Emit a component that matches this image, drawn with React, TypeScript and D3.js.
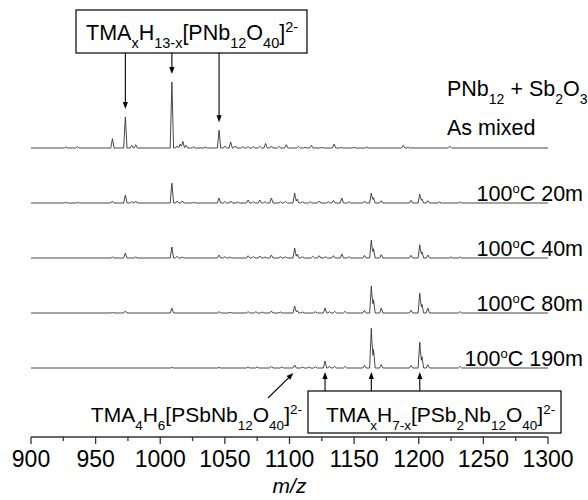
import React from "react";
import * as d3 from "d3";

// ---- data: [m/z, relative intensity %] ----
const mixedPeaks: [number, number][] = [
  [927, 1.5], [936, 2], [963, 14], [973, 47], [978, 4], [981, 5], [1009, 100], [1013, 3],
  [1015.5, 6], [1017.5, 10], [1020, 4], [1026, 2], [1035, 1.5], [1045.5, 27], [1050, 3],
  [1054.5, 9], [1058, 3], [1064, 2], [1068, 2], [1072, 2], [1077, 2.5], [1081.5, 7], [1086, 3],
  [1092, 2.5], [1097.5, 5], [1107, 2.5], [1112, 1], [1117, 4], [1125, 1], [1134.5, 6], [1140, 1],
  [1150, 1], [1160, 1.5], [1188, 4], [1192, 1], [1224, 2.5],
];
const m20Peaks: [number, number][] = [
  [927, 1], [936, 1], [963, 3], [973, 12], [978, 2], [981, 3], [1009, 30], [1013, 3], [1017, 3],
  [1026, 1], [1045.5, 7.5], [1050, 2], [1054.5, 3], [1060, 1.5], [1068, 4.5], [1072, 2], [1077, 4.5],
  [1081, 2], [1086, 7.5], [1093, 2], [1097, 2.5], [1104, 15], [1106, 6], [1110, 2], [1116, 2],
  [1123, 3], [1130, 2], [1134, 4], [1140.5, 7.5], [1146, 2], [1158, 3], [1163.3, 15], [1165, 8],
  [1171, 3.5], [1194, 4], [1200.8, 13.5], [1202.5, 6], [1207, 3.5], [1216, 1.5], [1232, 1.5],
];
const m40Peaks: [number, number][] = [
  [963, 1.5], [973, 7.5], [981, 1.5], [1009, 16.7], [1013, 2.5], [1017, 1.5], [1045.5, 4.5],
  [1050, 2], [1054, 1.5], [1068, 3.5], [1072, 2], [1077, 3], [1081, 1.5], [1086, 4.5], [1093, 2],
  [1097, 2], [1104, 15], [1106, 6], [1110, 2], [1118, 2.5], [1123, 3.5], [1128, 2], [1134, 3.5],
  [1140.5, 6], [1146, 2], [1158, 4], [1163.3, 27], [1165, 14], [1171, 5], [1194, 4], [1200.8, 20],
  [1202.5, 9], [1207, 4.5], [1225, 1.5], [1232, 1.5],
];
const m80Peaks: [number, number][] = [
  [963, 0.8], [973, 3], [1009, 7.5], [1045.5, 2], [1054, 1], [1068, 2], [1074, 2], [1079, 1.5],
  [1086, 3], [1093, 1.5], [1104, 10.5], [1106, 4], [1110, 1.5], [1120, 2], [1127.5, 7.5], [1131, 2],
  [1135, 2.5], [1143, 2.5], [1158, 4], [1163.3, 41], [1165, 20], [1171, 7.5], [1194, 4],
  [1200.8, 30], [1202.5, 13], [1207, 7.5], [1232, 2],
];
const m190Peaks: [number, number][] = [
  [1009, 0.8], [1045.5, 0.8], [1068, 1.5], [1075, 1.5], [1086, 2], [1094, 1.5], [1104, 4.5],
  [1110, 1.5], [1115, 1.5], [1120, 2], [1127.5, 10.5], [1131, 3], [1135, 2.5], [1143, 2.5],
  [1158, 4], [1163.3, 60], [1165, 28], [1171, 5], [1194, 4], [1200.8, 39], [1202.5, 17],
  [1207, 5], [1232, 2.5],
];
const spectra = [mixedPeaks, m20Peaks, m40Peaks, m80Peaks, m190Peaks];
const timeLabels = ["", "20m", "40m", "80m", "190m"];
const xTicks = [900, 950, 1000, 1050, 1100, 1150, 1200, 1250, 1300];
const topArrowMz = [973, 1009, 1045.5];
const bottomArrowMz = [1127.5, 1163.3, 1200.8];
const monoSbMz = 1103;

const FONT = "'Liberation Sans', Arial, Helvetica, sans-serif";
const PEAK_HALF = 1.3;

type Seg = [string, "n" | "sub" | "sup"];

function Rich({ x, y, segs, size, small, anchor = "start", subDy, supDy }: {
  x: number; y: number; segs: Seg[]; size: number; small: number; anchor?: string; subDy: number; supDy: number;
}) {
  let cur = 0;
  return (
    <text x={x} y={y} fontFamily={FONT} fontSize={size} fill="#000" textAnchor={anchor}>
      {segs.map(([t, k], i) => {
        const target = k === "sub" ? subDy : k === "sup" ? -supDy : 0;
        const dy = target - cur;
        cur = target;
        return (
          <tspan key={i} dy={dy} fontSize={k === "n" ? size : small}>{t}</tspan>
        );
      })}
    </text>
  );
}

function spectrumPoints(peaks: [number, number][]): [number, number][] {
  const xs = new Set<number>([900, 1300]);
  peaks.forEach(([c]) => { xs.add(c - PEAK_HALF); xs.add(c); xs.add(c + PEAK_HALF); });
  const sorted = Array.from(xs).sort((a, b) => a - b);
  return sorted.map((mz) => {
    let v = 0;
    peaks.forEach(([c, h]) => {
      const d = Math.abs(mz - c);
      if (d < PEAK_HALF) v += h * (1 - d / PEAK_HALF);
    });
    return [mz, v];
  });
}

export default function App() {
  const W = 588, H = 500;
  const x = d3.scaleLinear().domain([900, 1300]).range([31, 548]);
  const firstBase = 148, step = 55, pxPerPct = 0.66;
  const yFor = (i: number) =>
    d3.scaleLinear().domain([0, 100]).range([firstBase + i * step, firstBase + i * step - 100 * pxPerPct]);
  const axisY = 437;
  const minorTicks = d3.range(925, 1300, 50);

  const peakTop = (peaks: [number, number][], mz: number, i: number) => {
    const pts = spectrumPoints(peaks);
    const p = pts.find((d) => Math.abs(d[0] - mz) < 1e-6);
    return yFor(i)(p ? p[1] : 0);
  };

  const arrowHead = (tx: number, ty: number, angle: number, key: string) => {
    // angle: direction of travel in radians
    const L = 7, Wd = 2.6;
    const bx = tx - L * Math.cos(angle), by = ty - L * Math.sin(angle);
    const nx = -Math.sin(angle), ny = Math.cos(angle);
    return (
      <path key={key} d={`M${tx},${ty}L${bx + nx * Wd},${by + ny * Wd}L${bx - nx * Wd},${by - ny * Wd}Z`} fill="#000" />
    );
  };

  const topBox = { x: 76, y: 10, w: 231, h: 43 };
  const botBox = { x: 308, y: 391, w: 253, h: 42 };
  const base190 = firstBase + 4 * step;

  const diagFrom: [number, number] = [268, 398];
  const diagTo: [number, number] = [x(monoSbMz), base190 + 5];
  const diagAng = Math.atan2(diagTo[1] - diagFrom[1], diagTo[0] - diagFrom[0]);

  return (
    <svg width={W} height={H} style={{ position: "absolute", left: 0, top: 0, background: "#fff" }}>
      {spectra.map((peaks, i) => {
        const y = yFor(i);
        const line = d3.line<[number, number]>().x((d) => x(d[0])).y((d) => y(d[1]));
        return <path key={i} d={line(spectrumPoints(peaks)) || ""} fill="none" stroke="#333" strokeWidth={0.9} />;
      })}

      {/* axis */}
      <line x1={x(900)} x2={x(1300)} y1={axisY} y2={axisY} stroke="#333" strokeWidth={1.5} />
      {xTicks.map((t) => (
        <g key={t}>
          <line x1={x(t)} x2={x(t)} y1={axisY} y2={axisY + 7} stroke="#333" strokeWidth={1.3} />
          <text x={x(t)} y={467} textAnchor="middle" fontFamily={FONT} fontSize={23} fill="#000">{t}</text>
        </g>
      ))}
      {minorTicks.map((t) => (
        <line key={t} x1={x(t)} x2={x(t)} y1={axisY} y2={axisY + 4} stroke="#333" strokeWidth={1.3} />
      ))}
      <text x={x(1100)} y={493} textAnchor="middle" fontFamily={FONT} fontSize={21} fontStyle="italic" fill="#000">m/z</text>

      {/* top annotation */}
      <rect x={topBox.x} y={topBox.y} width={topBox.w} height={topBox.h} fill="#fff" stroke="#000" strokeWidth={1.2} />
      <Rich x={86} y={40} size={21.5} small={14.5} subDy={8} supDy={8}
        segs={[["TMA", "n"], ["x", "sub"], ["H", "n"], ["13-x", "sub"], ["[PNb", "n"], ["12", "sub"], ["O", "n"], ["40", "sub"], ["]", "n"], ["2-", "sup"]]} />
      {topArrowMz.map((mz, k) => {
        const tip = peakTop(mixedPeaks, mz, 0) - 8;
        return (
          <g key={k}>
            <line x1={x(mz)} x2={x(mz)} y1={topBox.y + topBox.h} y2={tip - 4} stroke="#000" strokeWidth={1.1} />
            {arrowHead(x(mz), tip, Math.PI / 2, "h" + k)}
          </g>
        );
      })}

      {/* right labels */}
      <Rich x={447} y={96} size={21.5} small={14} subDy={8} supDy={8}
        segs={[["PNb", "n"], ["12", "sub"], [" + Sb", "n"], ["2", "sub"], ["O", "n"], ["3", "sub"]]} />
      <text x={447} y={135} fontFamily={FONT} fontSize={21.5} fill="#000">As mixed</text>
      {timeLabels.map((t, i) => t ? (
        <Rich key={i} x={583} y={firstBase + i * step - 2} anchor="end" size={21.5} small={13} subDy={8} supDy={8}
          segs={[["100", "n"], ["o", "sup"], ["C " + t, "n"]]} />
      ) : null)}

      {/* bottom annotations */}
      <rect x={botBox.x} y={botBox.y} width={botBox.w} height={botBox.h} fill="#fff" stroke="#000" strokeWidth={1.2} />
      <Rich x={326} y={422} size={21} small={13.5} subDy={8} supDy={8}
        segs={[["TMA", "n"], ["x", "sub"], ["H", "n"], ["7-x", "sub"], ["[PSb", "n"], ["2", "sub"], ["Nb", "n"], ["12", "sub"], ["O", "n"], ["40", "sub"], ["]", "n"], ["2-", "sup"]]} />
      {bottomArrowMz.map((mz, k) => {
        const tip = base190 + 4;
        return (
          <g key={k}>
            <line x1={x(mz)} x2={x(mz)} y1={botBox.y} y2={tip + 4} stroke="#000" strokeWidth={1.1} />
            {arrowHead(x(mz), tip, -Math.PI / 2, "b" + k)}
          </g>
        );
      })}
      <Rich x={302} y={422} anchor="end" size={21} small={13.5} subDy={8} supDy={8}
        segs={[["TMA", "n"], ["4", "sub"], ["H", "n"], ["6", "sub"], ["[PSbNb", "n"], ["12", "sub"], ["O", "n"], ["40", "sub"], ["]", "n"], ["2-", "sup"]]} />
      <line x1={diagFrom[0]} y1={diagFrom[1]} x2={diagTo[0] - 4 * Math.cos(diagAng)} y2={diagTo[1] - 4 * Math.sin(diagAng)} stroke="#000" strokeWidth={1.1} />
      {arrowHead(diagTo[0], diagTo[1], diagAng, "diag")}
    </svg>
  );
}
